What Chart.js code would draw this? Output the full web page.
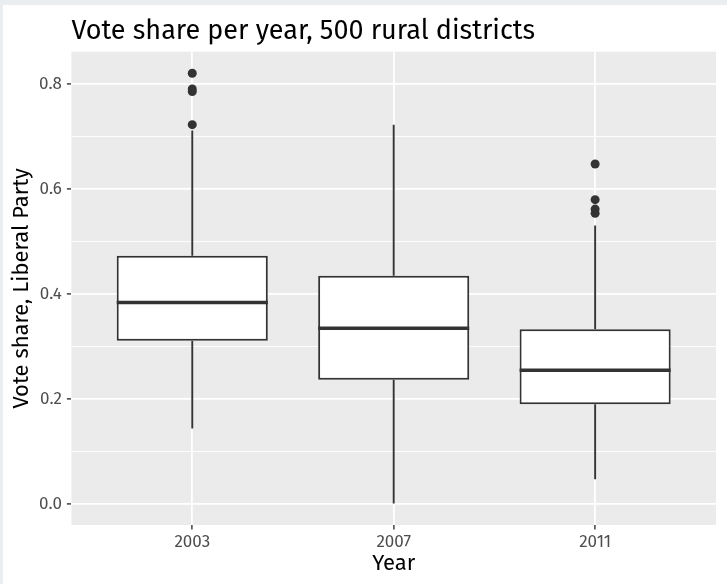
<!DOCTYPE html>
<html>
<head>
<meta charset="utf-8">
<script src="https://cdn.jsdelivr.net/npm/chart.js@4/dist/chart.umd.min.js"></script>
<style>
  html, body { margin: 0; padding: 0; background: #EBEEF0; }
  #frame { position: absolute; left: 3px; top: 5px; width: 724px; height: 579px; background: #FFFFFF; }
  canvas { display: block; }
</style>
</head>
<body>
<div id="frame"><canvas id="chart" width="724" height="579"></canvas></div>
<script>
// Election years on the x axis
const years = ['2003', '2007', '2011'];

// Five-number summaries of the Liberal Party vote share per year
const whiskerLow  = [0.144, 0.001, 0.047];
const quartile1   = [0.311, 0.237, 0.190];
const medians     = [0.384, 0.335, 0.255];
const quartile3   = [0.473, 0.435, 0.333];
const whiskerHigh = [0.712, 0.723, 0.531];

// Districts beyond 1.5 IQR, per year
const outliers2003 = [0.821, 0.791, 0.786, 0.723];
const outliers2007 = [];
const outliers2011 = [0.648, 0.580, 0.562, 0.554];

// Y axis labels (major) and the minor grid positions
const yMajorTicks = [0.0, 0.2, 0.4, 0.6, 0.8];
const yTickLabels = ['0.0', '0.2', '0.4', '0.6', '0.8'];
const yMinorTicks = [0.1, 0.3, 0.5, 0.7];

const BOX_WIDTH = 0.75;      // box width in category units
const INK = '#333333';
const FONT = "'Fira Sans', Roboto, sans-serif";

const outlierSets = [outliers2003, outliers2007, outliers2011];
const outlierPoints = [];
outlierSets.forEach((vals, i) => vals.forEach(v => outlierPoints.push({ x: i, y: v })));

const boxData = years.map((_, i) => ({ x: i, y: [quartile1[i], quartile3[i]] }));

const whiskerSets = years.map((_, i) => ({
  type: 'line',
  data: [
    { x: i, y: whiskerLow[i] }, { x: i, y: quartile1[i] },
    { x: i, y: null },
    { x: i, y: quartile3[i] }, { x: i, y: whiskerHigh[i] }
  ],
  borderColor: INK,
  borderWidth: 1.9,
  pointRadius: 0,
  spanGaps: false,
  order: 3
}));

const medianSets = years.map((_, i) => ({
  type: 'line',
  data: [
    { x: i - BOX_WIDTH / 2, y: medians[i] },
    { x: i + BOX_WIDTH / 2, y: medians[i] }
  ],
  borderColor: INK,
  borderWidth: 3.6,
  pointRadius: 0,
  order: 0
}));

const isMajor = v => yMajorTicks.some(t => Math.abs(t - v) < 1e-9);

// Grey plotting panel behind the grid
const panelBackground = {
  id: 'panelBackground',
  beforeDraw(chart) {
    const { ctx, chartArea: a } = chart;
    ctx.save();
    ctx.fillStyle = '#EBEBEB';
    ctx.fillRect(a.left, a.top, a.right - a.left, a.bottom - a.top);
    ctx.restore();
  }
};

new Chart(document.getElementById('chart'), {
  type: 'bar',
  data: {
    datasets: [
      {
        type: 'bar',
        data: boxData,
        backgroundColor: '#FFFFFF',
        borderColor: INK,
        borderWidth: 2,
        borderSkipped: false,
        categoryPercentage: 1,
        barPercentage: BOX_WIDTH,
        order: 2
      },
      ...whiskerSets,
      ...medianSets,
      {
        type: 'scatter',
        data: outlierPoints,
        backgroundColor: INK,
        borderWidth: 0,
        pointRadius: 4.5,
        order: 1
      }
    ]
  },
  options: {
    responsive: false,
    animation: false,
    devicePixelRatio: 1,
    layout: { padding: { left: 0, right: 11, top: 0, bottom: 0 } },
    plugins: {
      legend: { display: false },
      tooltip: { enabled: false },
      title: {
        display: true,
        text: 'Vote share per year, 500 rural districts',
        align: 'start',
        fullSize: false,
        color: '#000000',
        font: { family: FONT, size: 27, weight: 'normal' },
        padding: { top: 10, bottom: 4.3 }
      }
    },
    scales: {
      x: {
        type: 'linear',
        offset: false,
        min: -0.6,
        max: years.length - 1 + 0.6,
        afterBuildTicks(scale) { scale.ticks = years.map((_, i) => ({ value: i })); },
        afterFit(scale) { scale.height = 59; },
        ticks: {
          callback: v => years[v],
          color: '#4D4D4D',
          font: { family: FONT, size: 17 },
          padding: 3,
          maxRotation: 0,
          autoSkip: false
        },
        grid: {
          offset: false,
          color: '#FFFFFF',
          lineWidth: 1.8,
          drawTicks: true,
          tickLength: 4.5,
          tickColor: INK,
          tickWidth: 1.4
        },
        border: { display: false },
        title: {
          display: true,
          text: 'Year',
          color: '#000000',
          font: { family: FONT, size: 22 },
          padding: { top: 0, bottom: 7 }
        }
      },
      y: {
        type: 'linear',
        min: -0.040,
        max: 0.862,
        afterBuildTicks(scale) {
          scale.ticks = [...yMajorTicks, ...yMinorTicks].sort((a, b) => a - b).map(v => ({ value: v }));
        },
        afterFit(scale) { scale.width = 68.4; },
        ticks: {
          callback: v => {
            const k = yMajorTicks.findIndex(t => Math.abs(t - v) < 1e-9);
            return k >= 0 ? yTickLabels[k] : '';
          },
          color: '#4D4D4D',
          font: { family: FONT, size: 17 },
          padding: 5,
          autoSkip: false
        },
        grid: {
          color: '#FFFFFF',
          lineWidth: c => isMajor(c.tick.value) ? 1.8 : 0.9,
          drawTicks: true,
          tickLength: 4.5,
          tickColor: c => isMajor(c.tick.value) ? INK : 'rgba(0,0,0,0)',
          tickWidth: 1.4
        },
        border: { display: false },
        title: {
          display: true,
          text: 'Vote share, Liberal Party',
          color: '#000000',
          font: { family: FONT, size: 22 },
          padding: { top: 6, bottom: 0 }
        }
      }
    }
  },
  plugins: [panelBackground]
});
</script>
</body>
</html>
